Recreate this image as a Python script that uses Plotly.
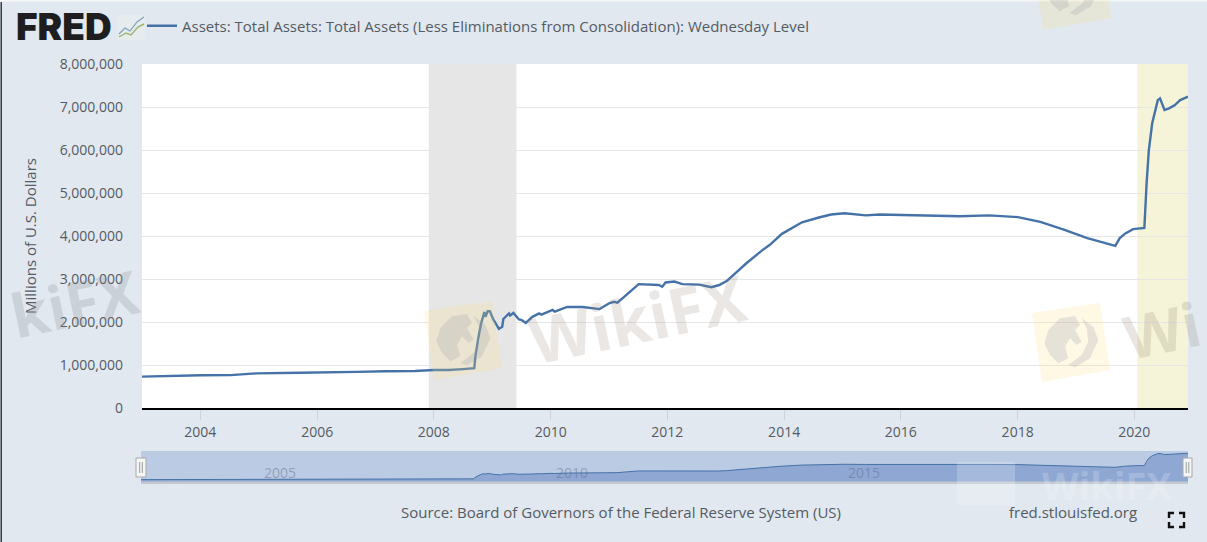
import plotly.graph_objects as go

W, H = 1207, 542
SERIES_NAME = "Assets: Total Assets: Total Assets (Less Eliminations from Consolidation): Wednesday Level"
Y_TITLE = "Millions of U.S. Dollars"
SOURCE = "Source: Board of Governors of the Federal Reserve System (US)"
SITE = "fred.stlouisfed.org"

dates = [
    "2003-01-01","2003-04-16","2003-08-06","2004-01-07","2004-07-07","2004-12-15","2005-09-14","2006-03-01",
    "2006-09-06","2007-03-07","2007-09-05","2008-01-02","2008-04-02","2008-07-02","2008-09-03","2008-09-10",
    "2008-09-17","2008-09-24","2008-10-08","2008-10-22","2008-11-12","2008-11-19","2008-12-03","2008-12-17",
    "2009-01-07","2009-02-11","2009-03-04","2009-03-11","2009-04-15","2009-04-22","2009-05-13","2009-06-17",
    "2009-07-01","2009-07-29","2009-09-09","2009-10-21","2009-11-04","2010-01-13","2010-01-27","2010-04-14",
    "2010-07-21","2010-11-03","2011-01-05","2011-02-02","2011-02-23","2011-07-06","2011-11-09","2011-11-30",
    "2011-12-21","2012-02-15","2012-04-04","2012-07-18","2012-10-03","2012-11-21","2013-01-09","2013-03-13",
    "2013-05-08","2013-08-14","2013-10-02","2013-12-18","2014-04-23","2014-08-06","2014-10-22","2015-01-14",
    "2015-05-27","2015-08-19","2016-01-06","2016-07-06","2017-01-04","2017-07-05","2018-01-03","2018-05-23",
    "2018-10-17","2019-03-13","2019-06-19","2019-09-04","2019-10-02","2019-11-06","2019-12-25","2020-03-04",
    "2020-03-18","2020-04-01","2020-04-22","2020-05-06","2020-05-27","2020-06-10","2020-07-08","2020-08-05",
    "2020-09-09","2020-10-14","2020-12-02",
]
values = [
    730000,740000,745000,760000,765000,805000,820000,825000,
    840000,855000,860000,885000,885000,905000,910000,925000,
    1200000,1400000,1680000,1950000,2230000,2120000,2250000,2250000,
    2060000,1840000,1890000,2070000,2200000,2150000,2210000,2060000,
    2050000,1980000,2120000,2200000,2170000,2280000,2240000,2350000,
    2350000,2300000,2440000,2470000,2450000,2880000,2860000,2820000,
    2920000,2940000,2880000,2870000,2810000,2860000,2960000,3170000,
    3360000,3660000,3790000,4050000,4320000,4430000,4500000,4530000,
    4480000,4500000,4490000,4480000,4460000,4480000,4440000,4330000,
    4150000,3950000,3850000,3770000,3950000,4060000,4160000,4190000,
    5230000,6000000,6620000,6860000,7160000,7200000,6930000,6970000,
    7040000,7160000,7240000,
]
recessions = [("2007-12-01", "2009-06-01"), ("2020-01-20", "2020-12-02")]
recession_colors = ["#e6e6e6", "#f5f4d8"]
x_range = ["2003-01-01", "2020-12-02"]
nav_labels = ["2005", "2010", "2015"]

BG = "#e1e8f0"
TXT = "#555b62"
LINE = "#4572a7"
FONT = "Open Sans"

def px(x): return x / W
def py(y): return 1 - y / H

def path(points, close=False):
    s = "M " + " L ".join(f"{px(a):.5f},{py(b):.5f}" for a, b in points)
    return s + (" Z" if close else "")

def rect(x0, y0, x1, y1, **kw):
    return dict(type="rect", xref="paper", yref="paper", x0=px(x0), x1=px(x1), y0=py(y0), y1=py(y1), **kw)

fig = go.Figure()
fig.add_trace(go.Scatter(x=dates, y=values, mode="lines", name=SERIES_NAME, line=dict(color=LINE, width=2.4),
                         xaxis="x", yaxis="y", showlegend=True))
fig.add_trace(go.Scatter(x=dates, y=values, mode="lines", name="navigator", line=dict(color=LINE, width=1),
                         fill="tozeroy", fillcolor="#8ea8d3", xaxis="x2", yaxis="y2", showlegend=False))

shapes = []
for (a, b), c in zip(recessions, recession_colors):
    shapes.append(dict(type="rect", xref="x", yref="y domain", x0=a, x1=b, y0=0, y1=1, fillcolor=c, line_width=0, layer="below"))
shapes.append(dict(type="rect", xref="x2 domain", yref="y2 domain", x0=0, x1=1, y0=0, y1=1, fillcolor="#bccbe4", line_width=0, layer="below"))
shapes.append(rect(141, 481.5, 1188, 484, fillcolor="#c3c9d2", line_width=0, layer="above"))
# page edge seen in the screenshot
shapes.append(rect(0.5, 2, 2, 542, fillcolor="#3a3d42", line_width=0, layer="above"))
shapes.append(rect(0, 0, 1207, 1.5, fillcolor="#f4f6f8", line_width=0, layer="above"))
for x0, x1 in [(136, 146), (1183, 1192)]:
    shapes.append(rect(x0, 458, x1, 477, fillcolor="#f4f5f5", line=dict(color="#a8a8a8", width=1), layer="above"))
    m = (x0 + x1) / 2
    for dx in (-1.3, 1.3):
        shapes.append(dict(type="line", xref="paper", yref="paper", x0=px(m + dx), x1=px(m + dx), y0=py(462), y1=py(473),
                           line=dict(color="#9a9a9a", width=1), layer="above"))
# logo icon
shapes.append(rect(118, 15, 145, 40, fillcolor="#e6ebee", line_width=0, layer="above"))
shapes.append(dict(type="path", xref="paper", yref="paper", path=path([(119, 34), (125, 28), (130, 31), (137, 22), (144, 17)]),
                   line=dict(color="#7f9fbf", width=1.2), layer="above"))
shapes.append(dict(type="path", xref="paper", yref="paper", path=path([(119, 37), (126, 33), (131, 35), (138, 27), (144, 24)]),
                   line=dict(color="#9db56c", width=1.4), layer="above"))
# fullscreen icon
for pts in [[(1169, 518), (1169, 513), (1174, 513)], [(1179, 513), (1184, 513), (1184, 518)],
            [(1169, 522), (1169, 527), (1174, 527)], [(1179, 527), (1184, 527), (1184, 522)]]:
    shapes.append(dict(type="path", xref="paper", yref="paper", path=path(pts), line=dict(color="#111", width=2.4), layer="above"))

# watermark badges (tilted square + eagle sketch)
BADGE = [(-39, -29), (29, -39), (39, 28), (-29, 40)]
EAGLE = [(133,190),(145,150),(180,115),(225,108),(240,135),(225,150),(245,185),(230,195),(210,175),(195,200),(205,235),(175,250),(150,225)]
CRESCENT = [(245,115),(280,140),(295,180),(270,235),(225,262),(205,255),(245,225),(265,185),(260,145)]
for cx, cy in [(463, 340), (1071, 342), (1072, -10)]:
    shapes.append(dict(type="path", xref="paper", yref="paper", layer="above", line_width=0, fillcolor="rgba(250,222,130,0.22)",
                       path=path([(cx + a, cy + b) for a, b in BADGE], True)))
    for poly in (EAGLE, CRESCENT):
        shapes.append(dict(type="path", xref="paper", yref="paper", layer="above", line_width=0, fillcolor="rgba(150,150,170,0.22)",
                           path=path([(cx + (a - 213) / 3, cy + (b - 186) / 3) for a, b in poly], True)))
shapes.append(dict(type="rect", xref="paper", yref="paper", x0=px(957), x1=px(1015), y0=py(505), y1=py(462), layer="above", line_width=0,
                   fillcolor="rgba(255,255,255,0.2)"))

ann = [
    dict(text="FRED", x=px(14), y=py(27), xref="paper", yref="paper", xanchor="left", yanchor="middle", showarrow=False,
         font=dict(family="Inter", size=37, color="#1e1e20", weight=900)),
    dict(text=SOURCE, x=px(621), y=py(512), xref="paper", yref="paper", xanchor="center", yanchor="middle", showarrow=False,
         font=dict(family=FONT, size=15, color=TXT)),
    dict(text=SITE, x=px(1073), y=py(512), xref="paper", yref="paper", xanchor="center", yanchor="middle", showarrow=False,
         font=dict(family=FONT, size=15, color=TXT)),
]
for lab in nav_labels:
    ann.append(dict(text=lab, x=f"{lab}-01-01", y=py(472), xref="x2", yref="paper", xanchor="left", yanchor="middle", showarrow=False,
                    xshift=4, font=dict(family=FONT, size=14, color="rgba(90,100,130,0.45)")))
for txt, x, y, size, angle, col in [("WikiFX", 637, 318, 64, -12, "rgba(150,135,125,0.2)"), ("kiFX", 74, 303, 60, -12, "rgba(140,140,145,0.25)"),
                                    ("Wi", 1162, 330, 60, -12, "rgba(150,135,125,0.22)"), ("WikiFX", 1107, 485, 38, 0, "rgba(255,255,255,0.2)")]:
    ann.append(dict(text=f"<b>{txt}</b>", x=px(x), y=py(y), xref="paper", yref="paper", showarrow=False, textangle=angle,
                    xanchor="center", yanchor="middle", font=dict(family=FONT, size=size, color=col)))

fig.update_layout(
    width=W, height=H, autosize=False, margin=dict(l=0, r=0, t=0, b=0, autoexpand=False),
    paper_bgcolor=BG, plot_bgcolor="white", font=dict(family=FONT, color=TXT, size=14),
    legend=dict(x=px(142), y=py(26), xanchor="left", yanchor="middle", bgcolor="rgba(0,0,0,0)",
                borderwidth=0, font=dict(family=FONT, size=15, color=TXT), orientation="h"),
    hovermode=False, shapes=shapes, annotations=ann,
    xaxis=dict(domain=[px(142), px(1188)], anchor="y", range=x_range, type="date", dtick="M24", tick0="2004-01-01", tickformat="%Y",
               ticks="outside", ticklen=10, tickcolor="#ccd3dc", tickwidth=1, showgrid=False, zeroline=False,
               showline=True, linecolor="#000", linewidth=2, tickfont=dict(size=14, color=TXT)),
    yaxis=dict(domain=[py(408), py(64)], anchor="x", range=[0, 8000000], dtick=1000000, tickformat=",", gridcolor="#e6e6e6", gridwidth=1,
               zeroline=False, ticks="", ticklabelstandoff=18, tickfont=dict(size=14, color=TXT),
               title=dict(text=Y_TITLE, standoff=19, font=dict(size=15, color=TXT))),
    xaxis2=dict(domain=[px(141), px(1188)], anchor="y2", range=x_range, type="date", visible=False),
    yaxis2=dict(domain=[py(483), py(451)], anchor="x2", range=[-100000, 7800000], visible=False),
)
fig.write_html("out.html", config=dict(displayModeBar=False), post_script="document.body.style.margin='0';")
